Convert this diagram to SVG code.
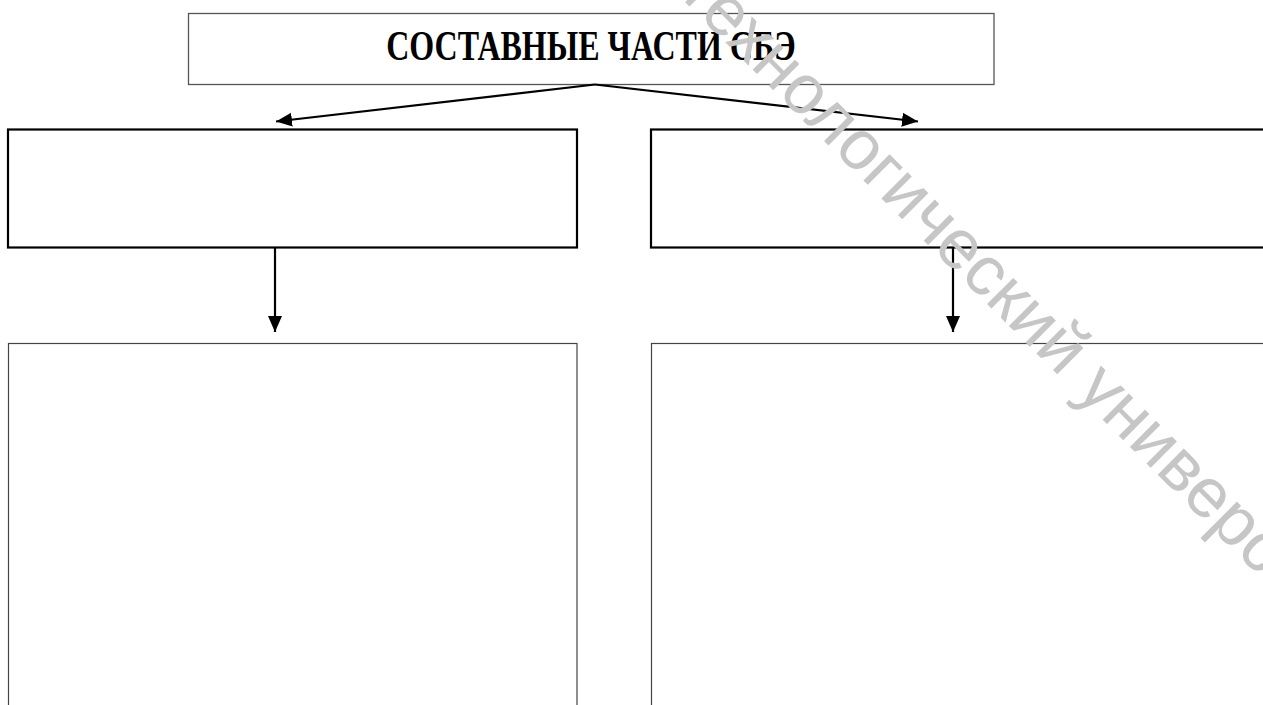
<svg xmlns="http://www.w3.org/2000/svg" width="1263" height="705" viewBox="0 0 1263 705">
  <style>
    .bg { fill: #ffffff; }
    .thin { fill: #ffffff; stroke: #555555; stroke-width: 1.3; }
    .thick { fill: #ffffff; stroke: #000000; stroke-width: 2.2; }
    .low { fill: #ffffff; stroke: #444444; stroke-width: 1.2; }
    .title { font-family: "Liberation Serif", "Times New Roman", serif; font-weight: bold; font-size: 32px; fill: #000000; }
    .conn { stroke: #000000; stroke-width: 2.2; fill: none; marker-end: url(#arrow); }
    .wm { font-family: "Liberation Sans", Arial, sans-serif; font-size: 70px; fill: #c6c6c6; }
  </style>
  <defs>
    <marker id="arrow" markerUnits="userSpaceOnUse" markerWidth="17" markerHeight="15" refX="16" refY="7" orient="auto">
      <path d="M0,0 L16,7 L0,14 z" fill="#000000"/>
    </marker>
  </defs>
  <rect class="bg" x="0" y="0" width="1263" height="705"/>
  <g id="node-top">
    <rect class="thin" x="188.5" y="13.5" width="805.5" height="71"/>
    <text class="title" transform="translate(591,60) scale(1,1.3)" x="0" y="0" text-anchor="middle">СОСТАВНЫЕ ЧАСТИ СБЭ</text>
  </g>
  <g id="node-mid-left">
    <rect class="thick" x="8" y="129.5" width="569" height="118"/>
  </g>
  <g id="node-mid-right">
    <rect class="thick" x="651" y="129.5" width="625" height="118"/>
  </g>
  <g id="node-bottom-left">
    <rect class="low" x="8.5" y="343.5" width="568.5" height="380"/>
  </g>
  <g id="node-bottom-right">
    <rect class="low" x="651.5" y="343.5" width="625" height="380"/>
  </g>
  <g id="connectors">
    <line class="conn" x1="595" y1="84.5" x2="276" y2="121.5"/>
    <line class="conn" x1="595" y1="84.5" x2="918" y2="121.5"/>
    <line class="conn" x1="275" y1="248" x2="275" y2="332"/>
    <line class="conn" x1="953" y1="248" x2="953" y2="332"/>
  </g>
  <text class="wm" transform="translate(676,-7) rotate(45)">технологический университет</text>
</svg>
